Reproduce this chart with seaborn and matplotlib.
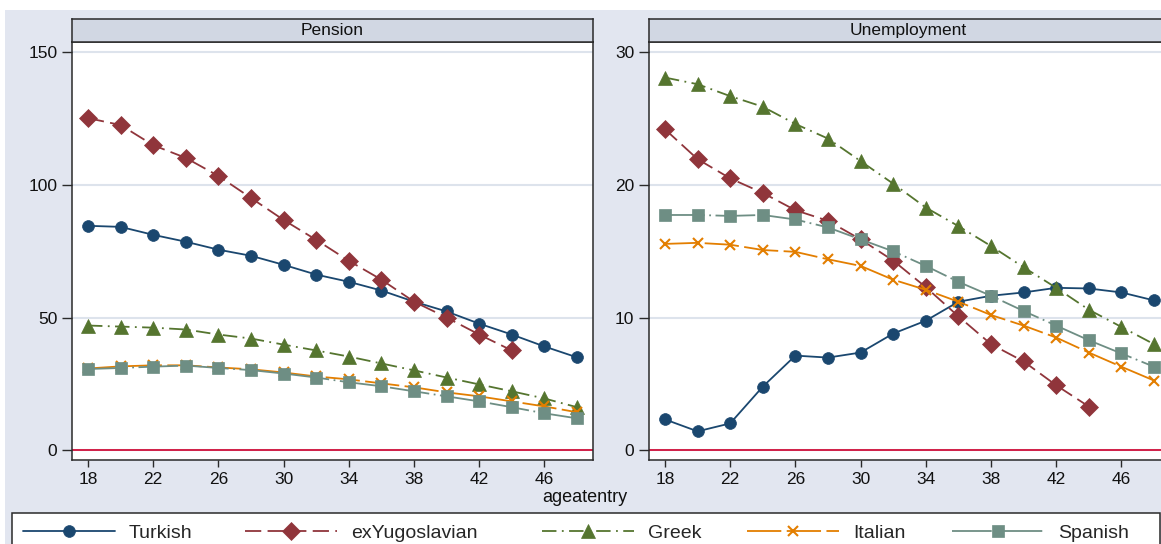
import numpy as np
import pandas as pd
import matplotlib
matplotlib.use("Agg")
import matplotlib.pyplot as plt
from matplotlib.patches import Rectangle
import seaborn as sns

# ---------------- data ----------------
ages = [18, 20, 22, 24, 26, 28, 30, 32, 34, 36, 38, 40, 42, 44, 46, 48]
groups = ["Turkish", "exYugoslavian", "Greek", "Italian", "Spanish"]
panels = ["Pension", "Unemployment"]

pension_turkish = [84.6, 84.2, 81.2, 78.6, 75.6, 73.3, 69.9, 66.2, 63.5, 60.2, 56.0, 52.3, 47.7, 43.6, 39.1, 35.0]
pension_exyug = [125.2, 122.6, 115.0, 110.2, 103.4, 95.1, 86.8, 79.3, 71.4, 64.3, 56.0, 50.0, 43.6, 37.6]
pension_greek = [47.0, 46.6, 46.2, 45.5, 43.6, 42.1, 39.8, 37.6, 35.3, 32.7, 30.1, 27.4, 24.8, 22.2, 19.5, 16.2]
pension_italian = [30.8, 31.6, 32.0, 32.0, 31.2, 30.5, 29.3, 27.8, 26.7, 25.2, 23.7, 21.8, 20.3, 18.4, 16.5, 14.3]
pension_spanish = [30.6, 31.0, 31.5, 31.9, 31.0, 30.2, 28.9, 27.4, 25.6, 24.1, 22.2, 20.3, 18.4, 16.2, 13.9, 12.0]

unemp_turkish = [2.33, 1.43, 2.03, 4.8, 7.14, 6.99, 7.37, 8.8, 9.77, 11.2, 11.65, 11.9, 12.25, 12.2, 11.9, 11.3]
unemp_exyug = [24.2, 21.95, 20.5, 19.4, 18.1, 17.3, 15.9, 14.3, 12.3, 10.1, 8.0, 6.7, 4.9, 3.3]
unemp_greek = [28.1, 27.6, 26.7, 25.9, 24.6, 23.5, 21.8, 20.1, 18.3, 16.9, 15.4, 13.8, 12.25, 10.6, 9.3, 8.0]
unemp_italian = [15.56, 15.64, 15.5, 15.1, 14.96, 14.4, 13.9, 12.86, 12.1, 11.2, 10.2, 9.4, 8.5, 7.37, 6.3, 5.26]
unemp_spanish = [17.74, 17.74, 17.67, 17.74, 17.4, 16.8, 15.9, 15.0, 13.9, 12.7, 11.65, 10.5, 9.4, 8.3, 7.3, 6.3]

pension = [pension_turkish, pension_exyug, pension_greek, pension_italian, pension_spanish]
unemp = [unemp_turkish, unemp_exyug, unemp_greek, unemp_italian, unemp_spanish]

rows = []
for panel, series in zip(panels, [pension, unemp]):
    for g, vals in zip(groups, series):
        for a, v in zip(ages, vals):
            rows.append({"panel": panel, "group": g, "ageatentry": a, "value": v})
df = pd.DataFrame(rows)

# ---------------- style ----------------
sns.set_theme(style="white")
plt.rcParams["font.family"] = ["Liberation Sans", "DejaVu Sans"]

colors = {"Turkish": "#1A476F", "exYugoslavian": "#90353B", "Greek": "#55752F",
          "Italian": "#E37E00", "Spanish": "#6E8E84"}
markers = {"Turkish": "o", "exYugoslavian": "D", "Greek": "^", "Italian": "X", "Spanish": "s"}
final_markers = {"Turkish": "o", "exYugoslavian": "D", "Greek": "^", "Italian": "x", "Spanish": "s"}
dashes = {"Turkish": "", "exYugoslavian": (9, 3.5), "Greek": (8, 3, 1, 3),
          "Italian": (19, 3), "Spanish": (22, 2.5, 1, 2.5)}
msizes = {"Turkish": 8.5, "exYugoslavian": 9, "Greek": 10, "Italian": 7.5, "Spanish": 9}

W, H = 1161, 544
fig = plt.figure(figsize=(W / 100, H / 100), dpi=100, facecolor="white")
fig.patches.append(Rectangle((5 / W, 0), 1, 1 - 10 / H, transform=fig.transFigure,
                             facecolor="#E2E6F0", edgecolor="none", zorder=-10))

def px_axes(x0, y0, x1, y1):
    return fig.add_axes([x0 / W, 1 - y1 / H, (x1 - x0) / W, (y1 - y0) / H])

edge = "#2A2A2A"
panel_geo = {"Pension": (72, 593), "Unemployment": (649, 1170)}
title_x = {"Pension": 332, "Unemployment": 908}
ylims = {"Pension": (-3.7, 153.9), "Unemployment": (-0.73, 30.78)}
yticks = {"Pension": [0, 50, 100, 150], "Unemployment": [0, 10, 20, 30]}

handles = None
for panel in panels:
    x0, x1 = panel_geo[panel]
    ax = px_axes(x0, 42, x1, 460)
    ax.set_facecolor("white")
    sub = df[df["panel"] == panel]
    sns.lineplot(data=sub, x="ageatentry", y="value", hue="group", style="group",
                 hue_order=groups, style_order=groups, palette=colors,
                 markers=markers, dashes=dashes, lw=1.3, ax=ax, legend=False)
    lines = list(ax.get_lines())
    for ln, g in zip(lines, groups):
        ln.set_marker(final_markers[g])
        ln.set_markersize(msizes[g])
        ln.set_markeredgecolor(colors[g])
        ln.set_markerfacecolor(colors[g])
        ln.set_markeredgewidth(1.5 if g == "Italian" else 0.5)
    if handles is None:
        handles = lines
    ax.axhline(0, color="#D0103A", lw=1.3, zorder=1.5)
    ax.set_xlim(17.02, 48.98)
    ax.set_ylim(*ylims[panel])
    ax.set_xticks([18, 22, 26, 30, 34, 38, 42, 46])
    ax.set_yticks(yticks[panel])
    ax.yaxis.grid(True, color="#DDE3EC", lw=1.5)
    ax.xaxis.grid(False)
    ax.set_axisbelow(True)
    ax.set_xlabel("")
    ax.set_ylabel("")
    ax.tick_params(axis="y", direction="out", length=7, width=1, color=edge,
                   labelsize=12.5, pad=3.5, left=True, labelcolor="#111111")
    ax.tick_params(axis="x", direction="out", length=5, width=1, color=edge,
                   labelsize=12.5, pad=4, bottom=True, labelcolor="#111111")
    for s in ax.spines.values():
        s.set_color(edge)
        s.set_linewidth(1.1)
    # strip header
    hx = px_axes(x0, 19, x1, 42)
    hx.set_facecolor("#D1D7E3")
    hx.set_xticks([])
    hx.set_yticks([])
    for s in hx.spines.values():
        s.set_color(edge)
        s.set_linewidth(1.1)
    hx.text((title_x[panel] - x0) / (x1 - x0), 0.5, panel, transform=hx.transAxes,
            ha="center", va="center", fontsize=12.5, color="#111111")

fig.text(585 / W, 1 - 498 / H, "ageatentry", ha="center", va="center", fontsize=13, color="#111111")

# legend box
fig.patches.append(Rectangle((12 / W, -0.1), (1160 - 12) / W, (1 - 513 / H) + 0.1,
                             transform=fig.transFigure, facecolor="white",
                             edgecolor=edge, lw=1.1, zorder=1))
starts = [23, 245, 542, 747, 952]
fs = 14
fs_px = fs * 100 / 72
for h, g, xs in zip(handles, groups, starts):
    fig.legend([h], [g], loc="center left", bbox_to_anchor=(xs / W, 1 - 533 / H),
               frameon=False, fontsize=fs, borderpad=0, borderaxespad=0,
               handlelength=92 / fs_px, handletextpad=14 / fs_px, numpoints=1)

fig.savefig("out.png", dpi=100, facecolor="white")
